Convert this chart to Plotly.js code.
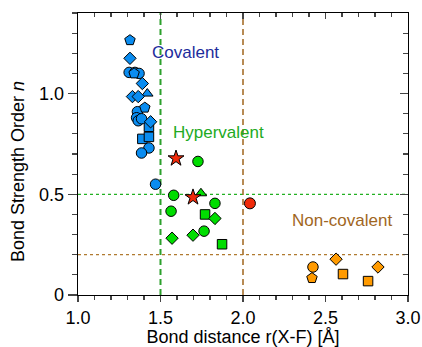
<!DOCTYPE html>
<html><head><meta charset="utf-8">
<script src="https://cdn.plot.ly/plotly-3.0.1.min.js"></script>
<style>html,body{margin:0;padding:0;background:#fff}#plot{width:422px;height:347px}</style>
</head><body><div id="plot"></div>
<script>
// Covalent (blue)
const bluePentX = [1.315, 1.34, 1.405];
const bluePentY = [1.265, 1.10, 0.93];
const blueDiaX = [1.315, 1.39, 1.33, 1.365, 1.44];
const blueDiaY = [1.175, 1.05, 0.985, 0.985, 0.86];
const blueTriX = [1.42];
const blueTriY = [1.0];
const blueCircX = [1.31, 1.345, 1.37, 1.36, 1.355, 1.365, 1.385, 1.43, 1.385, 1.47];
const blueCircY = [1.105, 1.105, 1.10, 0.91, 0.88, 0.865, 0.875, 0.73, 0.705, 0.55];
const blueSqX = [1.43, 1.39, 1.43];
const blueSqY = [0.835, 0.775, 0.785];
// Hypervalent (green)
const greenCircX = [1.727, 1.58, 1.83, 1.564, 1.764];
const greenCircY = [0.663, 0.495, 0.455, 0.416, 0.317];
const greenTriX = [1.745];
const greenTriY = [0.505];
const greenSqX = [1.77, 1.873];
const greenSqY = [0.40, 0.252];
const greenDiaX = [1.83, 1.697, 1.57];
const greenDiaY = [0.38, 0.297, 0.282];
// Red
const redStarX = [1.594, 1.697];
const redStarY = [0.678, 0.485];
const redCircX = [2.042];
const redCircY = [0.455];
// Non-covalent (orange)
const orCircX = [2.424];
const orCircY = [0.139];
const orPentX = [2.418];
const orPentY = [0.084];
const orDiaX = [2.564, 2.818];
const orDiaY = [0.178, 0.139];
const orSqX = [2.606, 2.758];
const orSqY = [0.104, 0.069];

const xTicks = [1.0, 1.5, 2.0, 2.5, 3.0];
const yTickVals = [0, 0.5, 1.0];
const yTickText = ['0', '0.5', '1.0'];

const BLUE = '#0a8cf0', GREEN = '#00dd00', ORANGE = '#ff9a00', RED = '#f02a0a';
function tr(x, y, sym, col, size) {
  return {x: x, y: y, type: 'scatter', mode: 'markers', showlegend: false, hoverinfo: 'skip',
    marker: {symbol: sym, color: col, size: size, line: {color: '#000', width: 1}}};
}
const data = [
  tr(blueSqX, blueSqY, 'square', BLUE, 9.5),
  tr(blueCircX, blueCircY, 'circle', BLUE, 10.5),
  tr(bluePentX, bluePentY, 'pentagon', BLUE, 11),
  tr(blueTriX, blueTriY, 'triangle-up', BLUE, 10),
  tr(blueDiaX, blueDiaY, 'diamond', BLUE, 9.5),
  tr(greenCircX, greenCircY, 'circle', GREEN, 10.5),
  tr(greenTriX, greenTriY, 'triangle-up', GREEN, 10),
  tr(greenSqX, greenSqY, 'square', GREEN, 9.5),
  tr(greenDiaX, greenDiaY, 'diamond', GREEN, 9.5),
  tr(redStarX, redStarY, 'star', RED, 12),
  tr(redCircX, redCircY, 'circle', RED, 11),
  tr(orCircX, orCircY, 'circle', ORANGE, 10.5),
  tr(orPentX, orPentY, 'pentagon', ORANGE, 11),
  tr(orDiaX, orDiaY, 'diamond', ORANGE, 9.5),
  tr(orSqX, orSqY, 'square', ORANGE, 9.5),
  {x: [], y: [], xaxis: 'x2', yaxis: 'y2', type: 'scatter', mode: 'markers', showlegend: false}
];
const FONT = 'Liberation Sans, Arial, Helvetica, sans-serif';
const layout = {
  width: 422, height: 347,
  margin: {l: 78, r: 14, t: 13, b: 52},
  paper_bgcolor: '#fff', plot_bgcolor: '#fff',
  font: {family: FONT, size: 18, color: '#000'},
  xaxis: {range: [1.0, 3.0], tickvals: xTicks, tickformat: '.1f', ticks: 'outside', ticklen: 6, tickwidth: 1.2,
    minor: {dtick: 0.1, tick0: 0, ticks: 'outside', ticklen: 3.5, tickwidth: 1.2, showgrid: false},
    showline: true, mirror: true, linecolor: '#000', linewidth: 1.3, showgrid: false, zeroline: false,
    title: {text: 'Bond distance r(X-F) [Å]', font: {size: 18}, standoff: 8}},
  yaxis: {range: [0, 1.4], tickvals: yTickVals, ticktext: yTickText, ticks: 'outside', ticklen: 9, tickwidth: 1.2,
    minor: {dtick: 0.1, tick0: 0, ticks: 'outside', ticklen: 5, tickwidth: 1.2, showgrid: false},
    showline: true, mirror: true, linecolor: '#000', linewidth: 1.3, showgrid: false, zeroline: false},
  xaxis2: {overlaying: 'x', matches: 'x', side: 'top', anchor: 'y', range: [1.0, 3.0], tickvals: xTicks,
    ticks: 'inside', ticklen: 6, tickwidth: 1.2, showticklabels: false, showgrid: false, zeroline: false,
    minor: {dtick: 0.1, tick0: 0, ticks: 'inside', ticklen: 4, tickwidth: 1.2, showgrid: false}},
  yaxis2: {overlaying: 'y', matches: 'y', side: 'right', anchor: 'x', range: [0, 1.4], tickvals: yTickVals,
    ticks: 'inside', ticklen: 8, tickwidth: 1.2, showticklabels: false, showgrid: false, zeroline: false,
    minor: {dtick: 0.1, tick0: 0, ticks: 'inside', ticklen: 5, tickwidth: 1.2, showgrid: false}},
  shapes: [
    {type: 'line', xref: 'x', yref: 'paper', x0: 1.5, x1: 1.5, y0: 0, y1: 1, layer: 'below', line: {color: '#2ca02c', width: 2, dash: '6px,4px'}},
    {type: 'line', xref: 'paper', yref: 'y', x0: 0, x1: 1, y0: 0.5, y1: 0.5, layer: 'below', line: {color: '#22b022', width: 1.2, dash: 'dot'}},
    {type: 'line', xref: 'x', yref: 'paper', x0: 2.0, x1: 2.0, y0: 0, y1: 1, layer: 'below', line: {color: '#a0661e', width: 1.5, dash: '6px,4px'}},
    {type: 'line', xref: 'paper', yref: 'y', x0: 0, x1: 1, y0: 0.2, y1: 0.2, layer: 'below', line: {color: '#b07a30', width: 1.2, dash: 'dot'}}
  ],
  annotations: [
    {text: 'Covalent', x: 1.436, y: 1.203, xref: 'x', yref: 'y', xanchor: 'left', yanchor: 'middle', showarrow: false, font: {size: 17, color: '#1c2c9c'}},
    {text: 'Hypervalent', x: 1.564, y: 0.807, xref: 'x', yref: 'y', xanchor: 'left', yanchor: 'middle', showarrow: false, font: {size: 17, color: '#22aa22'}},
    {text: 'Non-covalent', x: 2.285, y: 0.371, xref: 'x', yref: 'y', xanchor: 'left', yanchor: 'middle', showarrow: false, font: {size: 17, color: '#a0661e'}},
    {text: 'Bond Strength Order <i>n</i>', x: 18, y: 172, xref: 'paper', yref: 'paper', showarrow: false, textangle: -90, font: {size: 18, color: '#000'}}
  ]
};
// convert y-title annotation pixel position to paper coords
const pw = 422 - 78 - 14, ph = 347 - 13 - 52;
layout.annotations[3].x = (18 - 78) / pw;
layout.annotations[3].y = (347 - 52 - 172) / ph;
layout.annotations[3].xanchor = 'center';
layout.annotations[3].yanchor = 'middle';
Plotly.newPlot('plot', data, layout, {staticPlot: true, displayModeBar: false});
</script></body></html>
